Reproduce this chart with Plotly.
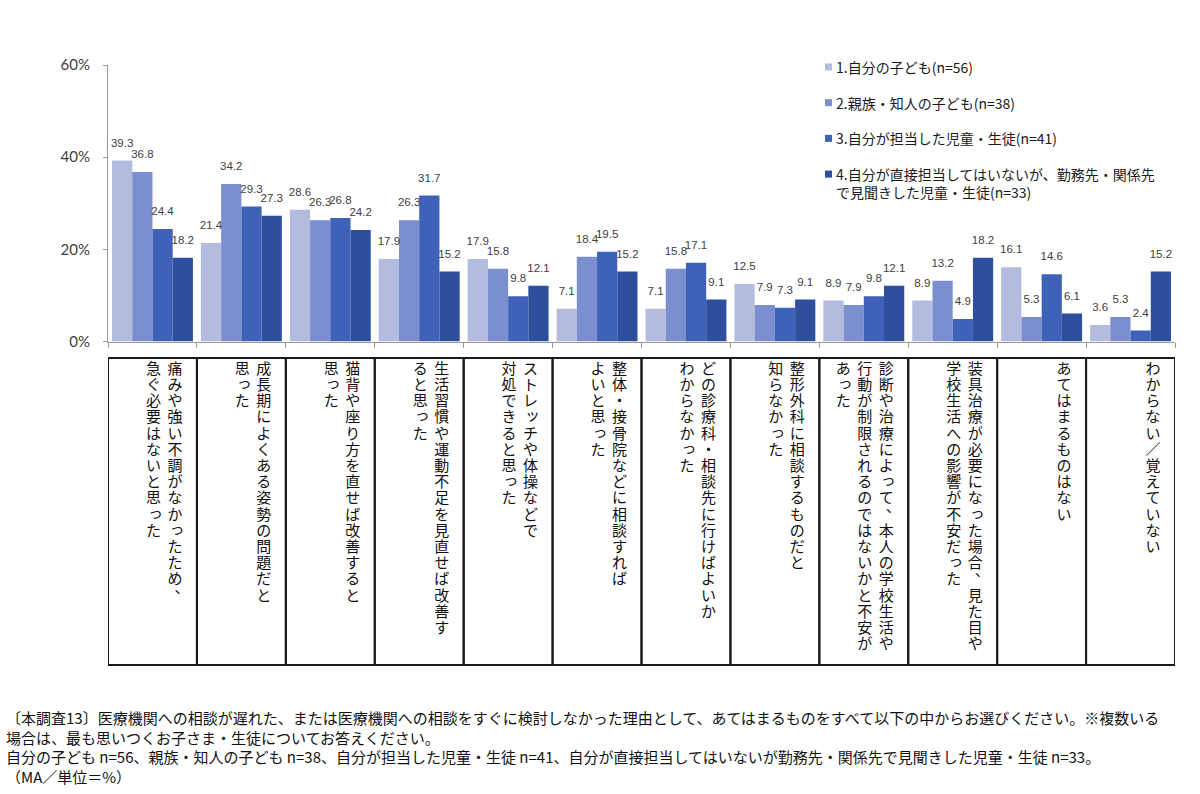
import plotly.graph_objects as go

# ---------------- data ----------------
categories = [
    "痛みや強い不調がなかったため、\n急ぐ必要はないと思った",
    "成長期によくある姿勢の問題だと\n思った",
    "猫背や座り方を直せば改善すると\n思った",
    "生活習慣や運動不足を見直せば改善す\nると思った",
    "ストレッチや体操などで\n対処できると思った",
    "整体・接骨院などに相談すれば\nよいと思った",
    "どの診療科・相談先に行けばよいか\nわからなかった",
    "整形外科に相談するものだと\n知らなかった",
    "診断や治療によって、本人の学校生活や\n行動が制限されるのではないかと不安が\nあった",
    "装具治療が必要になった場合、見た目や\n学校生活への影響が不安だった",
    "あてはまるものはない",
    "わからない／覚えていない",
]
series_names = [
    "1.自分の子ども(n=56)",
    "2.親族・知人の子ども(n=38)",
    "3.自分が担当した児童・生徒(n=41)",
    "4.自分が直接担当してはいないが、勤務先・関係先\nで見聞きした児童・生徒(n=33)",
]
own_child = [39.3, 21.4, 28.6, 17.9, 17.9, 7.1, 7.1, 12.5, 8.9, 8.9, 16.1, 3.6]
relative_child = [36.8, 34.2, 26.3, 26.3, 15.8, 18.4, 15.8, 7.9, 7.9, 13.2, 5.3, 5.3]
own_student = [24.4, 29.3, 26.8, 31.7, 9.8, 19.5, 17.1, 7.3, 9.8, 4.9, 14.6, 2.4]
other_student = [18.2, 27.3, 24.2, 15.2, 12.1, 15.2, 9.1, 9.1, 12.1, 18.2, 6.1, 15.2]
y_tick_values = [0, 20, 40, 60]
y_tick_labels = ["0%", "20%", "40%", "60%"]
footer_lines = [
    "〔本調査13〕医療機関への相談が遅れた、または医療機関への相談をすぐに検討しなかった理由として、あてはまるものをすべて以下の中からお選びください。※複数いる",
    "場合は、最も思いつくお子さま・生徒についてお答えください。",
    "自分の子ども n=56、親族・知人の子ども n=38、自分が担当した児童・生徒 n=41、自分が直接担当してはいないが勤務先・関係先で見聞きした児童・生徒 n=33。",
    "（MA／単位＝%）",
]

series_values = [own_child, relative_child, own_student, other_student]
colors = ["#b3bbdf", "#7b8ecf", "#3f62b8", "#2e4f9d"]

# ---------------- layout constants (pixels) ----------------
W, H = 1200, 794
ML, MR, MT, MB = 108, 25, 65, 129
PW = W - ML - MR          # plot width
PH = H - MT - MB          # plot height
N = len(categories)
PX = PW / N               # px per category unit
BARGAP = 0.09
BW = (1 - BARGAP) / 4
AXIS_BOTTOM_PX = 341.5
BOX_TOP_PX = 358
ROW0_PX = 370
ROW_PX = 16.2
COL0_PX = 22
COLSTEP_PX = 21.5


def paper_x(px):
    return (px - ML) / PW


def paper_y(py):
    return (H - MB - py) / PH


x_idx = list(range(N))
fig = go.Figure()

for k, (name, vals) in enumerate(zip(series_names, series_values)):
    fig.add_trace(go.Bar(
        x=x_idx, y=vals, name=name.replace("\n", " "),
        marker=dict(color=colors[k], line=dict(width=0)),
        showlegend=False, hoverinfo="y",
    ))

# value labels above bars
for k, vals in enumerate(series_values):
    fig.add_trace(go.Scatter(
        x=[i + (k - 1.5) * BW for i in x_idx], y=vals,
        mode="markers+text",
        marker=dict(size=16, opacity=0),
        text=[f"{v:.1f}" for v in vals],
        textposition="top center",
        textfont=dict(family="Liberation Sans, Arial", size=11.5, color="#404040"),
        showlegend=False, hoverinfo="skip", cliponaxis=False,
    ))

# vertical category text (one char per point, columns right to left)
cx, cy, ct = [], [], []
for i, cat in enumerate(categories):
    for c, line in enumerate(cat.split("\n")):
        for r, ch in enumerate(line):
            dx, dy = 0, 0
            if ch in "、。":
                dx, dy = 7, -8
            elif ch in "っッょゃゅ":
                dx, dy = 2, -2
            cx.append(i + 0.5 - (COL0_PX + COLSTEP_PX * c - dx) / PX)
            cy.append(r + dy / ROW_PX)
            ct.append(ch)
fig.add_trace(go.Scatter(
    x=cx, y=cy, text=ct, mode="text", xaxis="x", yaxis="y2",
    textposition="middle center",
    textfont=dict(family="Noto Sans CJK JP", size=15, color="#111111"),
    showlegend=False, hoverinfo="skip", cliponaxis=False,
))

shapes = []
# category boxes
for i in x_idx:
    shapes.append(dict(type="rect", xref="x", yref="y2 domain",
                       x0=i - 0.5, x1=i + 0.5, y0=0, y1=1,
                       line=dict(color="#1a1a1a", width=2), layer="above"))

annotations = []
# manual legend
for k, name in enumerate(series_names):
    yc = 67 + 35.7 * k
    shapes.append(dict(type="rect", xref="paper", yref="paper",
                       x0=paper_x(825), x1=paper_x(832),
                       y0=paper_y(yc + 3.5), y1=paper_y(yc - 3.5),
                       fillcolor=colors[k], line=dict(width=0)))
    nlines = name.count("\n") + 1
    annotations.append(dict(
        xref="paper", yref="paper", x=paper_x(834), y=paper_y(yc + 9 * (nlines - 1)),
        xanchor="left", yanchor="middle", align="left", showarrow=False,
        text=name.replace("\n", "<br>"),
        font=dict(family="Noto Sans CJK JP", size=14, color="#1a1a1a"),
    ))

# footer
annotations.append(dict(
    xref="paper", yref="paper", x=paper_x(4), y=paper_y(705),
    xanchor="left", yanchor="top", align="left", showarrow=False,
    text="<br>".join(footer_lines),
    font=dict(family="Noto Sans CJK JP", size=15, color="#111111"),
))

main_bottom = paper_y(AXIS_BOTTOM_PX)
row_top = (BOX_TOP_PX - ROW0_PX) / ROW_PX
row_bottom = (H - MB - ROW0_PX) / ROW_PX

fig.update_layout(
    width=W, height=H,
    margin=dict(l=ML, r=MR, t=MT, b=MB, pad=0),
    paper_bgcolor="white", plot_bgcolor="white",
    barmode="group", bargap=BARGAP, bargroupgap=0,
    xaxis=dict(range=[-0.5, N - 0.5], anchor="y",
               tickvals=[i - 0.5 for i in range(N + 1)],
               showticklabels=False, ticks="outside", ticklen=5,
               tickcolor="#999999", showline=True, linecolor="#999999",
               linewidth=1, showgrid=False, zeroline=False),
    yaxis=dict(domain=[main_bottom, 1], range=[0, 60],
               tickmode="array", tickvals=y_tick_values, ticktext=y_tick_labels,
               ticks="outside", ticklen=4, tickcolor="#999999",
               ticklabelstandoff=10,
               showline=True, linecolor="#999999", linewidth=1,
               showgrid=False, zeroline=False,
               tickfont=dict(family="Lato", size=15, color="#404040")),
    yaxis2=dict(domain=[0, paper_y(BOX_TOP_PX)], range=[row_bottom, row_top],
                anchor="x", visible=False),
    shapes=shapes, annotations=annotations,
    font=dict(family="Noto Sans CJK JP"),
)

fig.write_html("out.html")
